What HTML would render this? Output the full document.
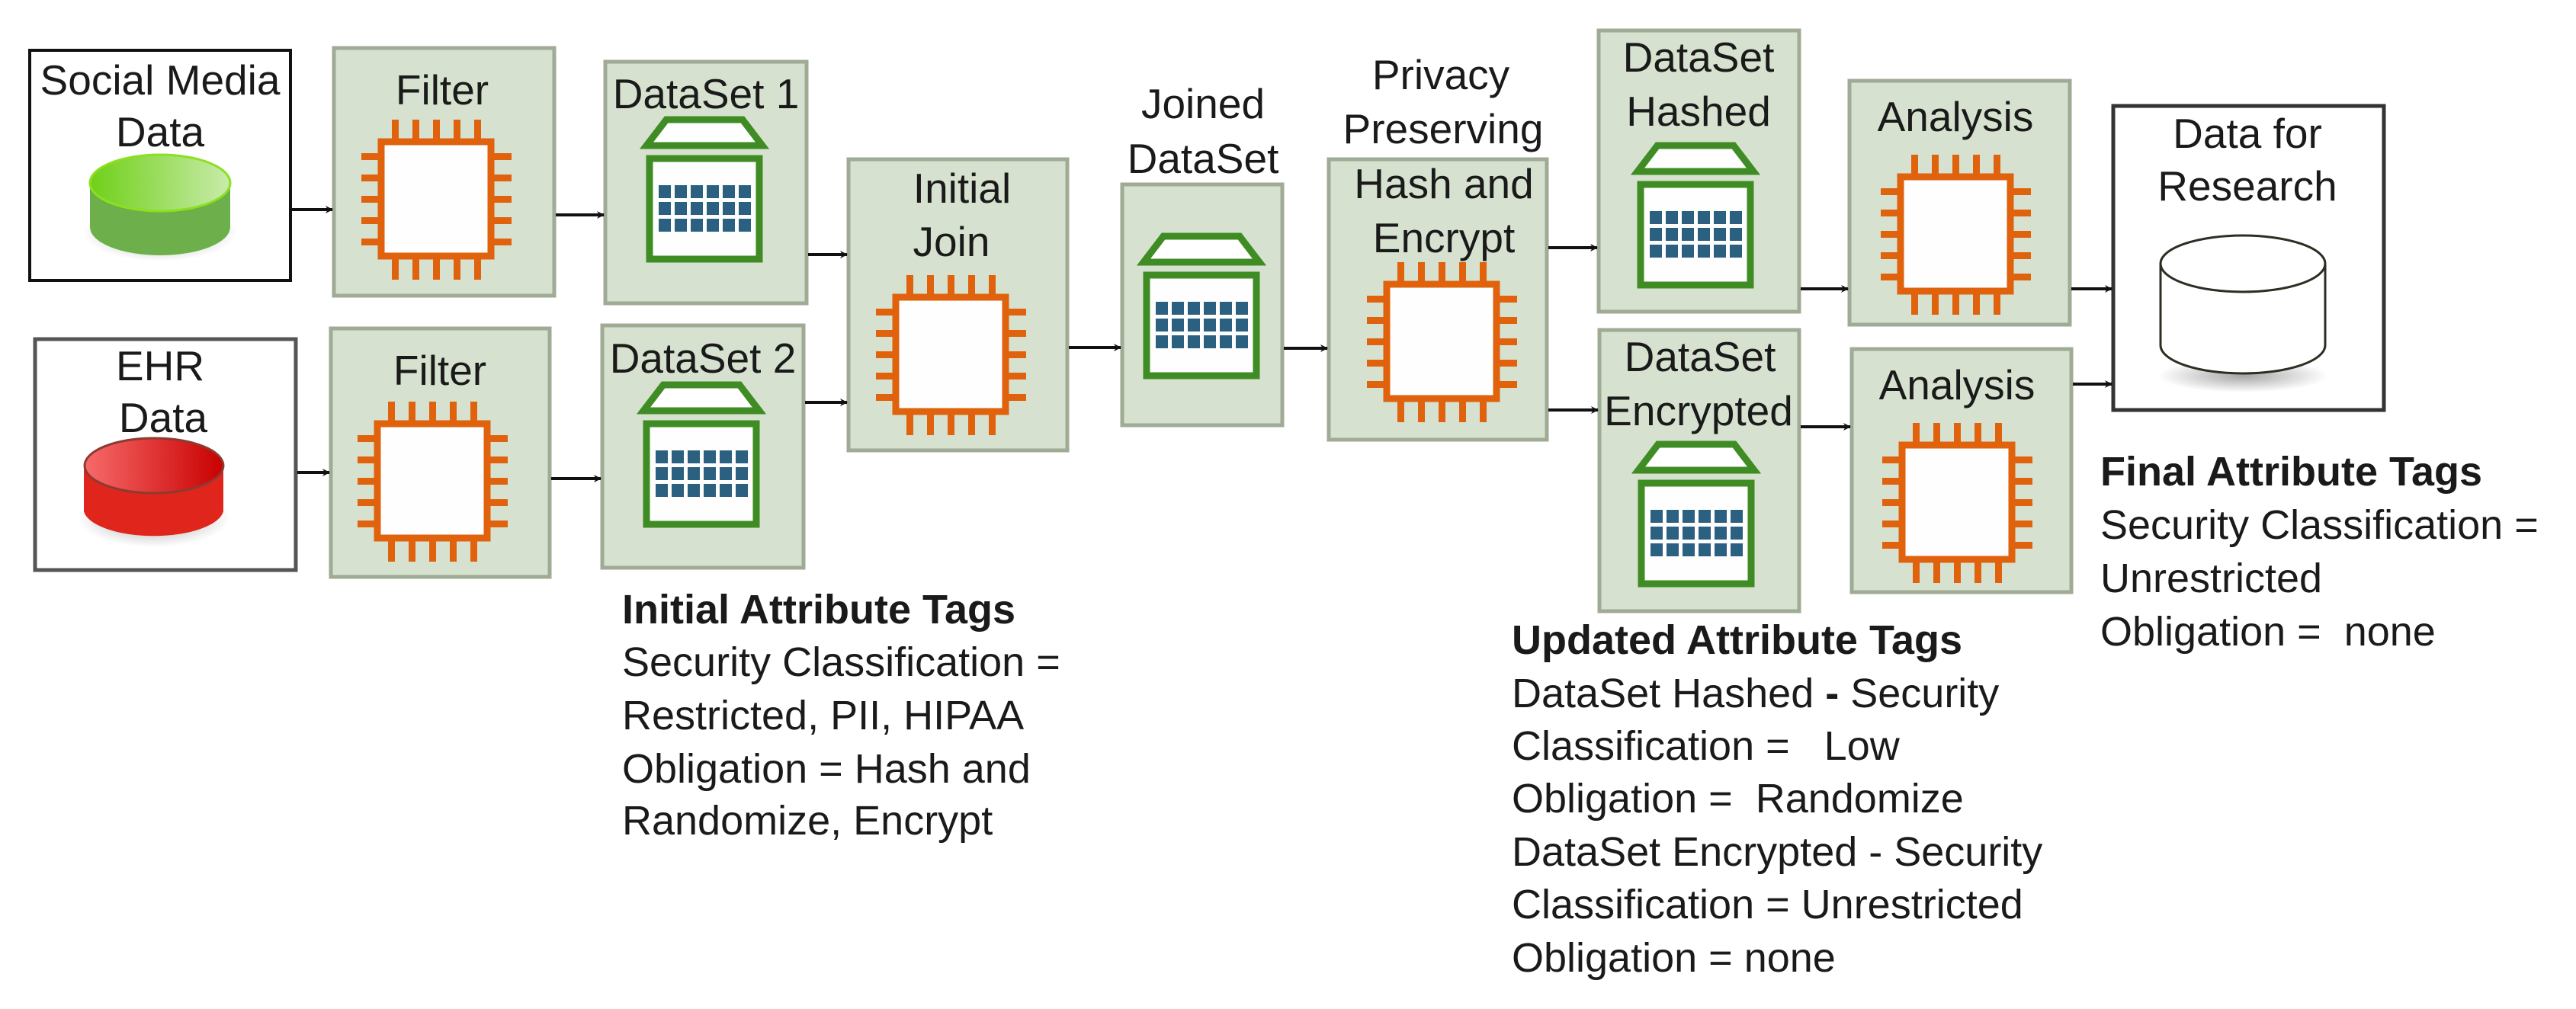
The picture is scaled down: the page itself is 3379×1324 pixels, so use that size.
<!DOCTYPE html>
<html><head><meta charset="utf-8"><style>
html,body{margin:0;padding:0;background:#fff;}
svg{display:block;}
text{font-family:"Liberation Sans",Arial,sans-serif;fill:#1a1a1a;}
</style></head><body>
<svg width="3379" height="1324" viewBox="0 0 3379 1324" xmlns="http://www.w3.org/2000/svg">
<defs>
<g id="chip">
  <g fill="#e0620d">
    <rect x="-58" y="-104" width="9" height="30"/><rect x="-31" y="-104" width="9" height="30"/><rect x="-4" y="-104" width="9" height="30"/><rect x="23" y="-104" width="9" height="30"/><rect x="50" y="-104" width="9" height="30"/>
    <rect x="-58" y="74" width="9" height="32"/><rect x="-31" y="74" width="9" height="32"/><rect x="-4" y="74" width="9" height="32"/><rect x="23" y="74" width="9" height="32"/><rect x="50" y="74" width="9" height="32"/>
    <rect x="-98" y="-60" width="26" height="9"/><rect x="-98" y="-32" width="26" height="9"/><rect x="-98" y="-4" width="26" height="9"/><rect x="-98" y="24" width="26" height="9"/><rect x="-98" y="52" width="26" height="9"/>
    <rect x="72" y="-60" width="27" height="9"/><rect x="72" y="-32" width="27" height="9"/><rect x="72" y="-4" width="27" height="9"/><rect x="72" y="24" width="27" height="9"/><rect x="72" y="52" width="27" height="9"/>
  </g>
  <rect x="-72" y="-75" width="144" height="150" fill="#fdfefd" stroke="#e0620d" stroke-width="9"/>
</g>
<g id="ds">
  <polygon points="-50,4 50,4 76,38 -76,38" fill="#fff" stroke="#3f8c25" stroke-width="9" stroke-linejoin="miter"/>
  <rect x="-72" y="55" width="144" height="132" fill="#fdfefd" stroke="#3f8c25" stroke-width="9"/>
  <g fill="#2c6080">
    <rect x="-60" y="90" width="16" height="17"/><rect x="-39" y="90" width="16" height="17"/><rect x="-18" y="90" width="16" height="17"/><rect x="3" y="90" width="16" height="17"/><rect x="24" y="90" width="16" height="17"/><rect x="45" y="90" width="16" height="17"/>
    <rect x="-60" y="112" width="16" height="17"/><rect x="-39" y="112" width="16" height="17"/><rect x="-18" y="112" width="16" height="17"/><rect x="3" y="112" width="16" height="17"/><rect x="24" y="112" width="16" height="17"/><rect x="45" y="112" width="16" height="17"/>
    <rect x="-60" y="134" width="16" height="17"/><rect x="-39" y="134" width="16" height="17"/><rect x="-18" y="134" width="16" height="17"/><rect x="3" y="134" width="16" height="17"/><rect x="24" y="134" width="16" height="17"/><rect x="45" y="134" width="16" height="17"/>
  </g>
</g>
<marker id="ah" markerWidth="10" markerHeight="10" refX="9" refY="5" orient="auto" markerUnits="userSpaceOnUse">
  <path d="M0,0 L10,5 L0,10 L3,5 Z" fill="#111"/>
</marker>
<linearGradient id="gtop" x1="0" x2="1" y1="0" y2="0"><stop offset="0" stop-color="#6fd018"/><stop offset="1" stop-color="#c9ebaa"/></linearGradient>
<linearGradient id="rtop" x1="0" x2="1" y1="0" y2="0"><stop offset="0" stop-color="#f76a6a"/><stop offset="1" stop-color="#c90000"/></linearGradient>
<radialGradient id="shadow" cx="0.5" cy="0.5" r="0.5"><stop offset="0" stop-color="#000" stop-opacity="0.35"/><stop offset="1" stop-color="#000" stop-opacity="0"/></radialGradient>
</defs>

<!-- Social Media box -->
<rect x="39" y="66" width="342" height="302" fill="#fff" stroke="#111" stroke-width="4"/>
<text x="210" y="124" font-size="55" text-anchor="middle">Social Media</text>
<text x="210" y="192" font-size="55" text-anchor="middle">Data</text>
<ellipse cx="210" cy="305" rx="100" ry="38" fill="url(#shadow)"/>
<path d="M118,240 L118,298 A92,37 0 0 0 302,298 L302,240 Z" fill="#6daf4b"/>
<ellipse cx="210" cy="240" rx="92" ry="37" fill="url(#gtop)" stroke="#8be020" stroke-width="3"/>

<!-- EHR box -->
<rect x="46" y="445" width="342" height="303" fill="#fff" stroke="#555" stroke-width="5"/>
<text x="210" y="499" font-size="55" text-anchor="middle">EHR</text>
<text x="214" y="567" font-size="55" text-anchor="middle">Data</text>
<ellipse cx="202" cy="680" rx="100" ry="38" fill="url(#shadow)"/>
<path d="M110,611 L110,671 A92,36 0 0 0 293,671 L293,611 Z" fill="#e0261c"/>
<ellipse cx="202" cy="611" rx="91" ry="36" fill="url(#rtop)" stroke="#8e3a30" stroke-width="3"/>

<!-- Green process boxes -->
<g fill="#d6e2cf" stroke="#a0ab95" stroke-width="5">
  <rect x="438" y="63" width="289" height="325"/>
  <rect x="434" y="431" width="287" height="326"/>
  <rect x="794" y="81" width="264" height="317"/>
  <rect x="790" y="427" width="264" height="318"/>
  <rect x="1113" y="209" width="287" height="382"/>
  <rect x="1472" y="242" width="210" height="316"/>
  <rect x="1743" y="209" width="286" height="368"/>
  <rect x="2097" y="40" width="263" height="369"/>
  <rect x="2098" y="433" width="262" height="369"/>
  <rect x="2426" y="106" width="289" height="320"/>
  <rect x="2429" y="458" width="288" height="319"/>
</g>

<!-- Data for Research -->
<rect x="2772" y="139" width="355" height="399" fill="#fff" stroke="#333" stroke-width="5"/>
<text x="2948" y="194" font-size="55" text-anchor="middle">Data for</text>
<text x="2948" y="263" font-size="55" text-anchor="middle">Research</text>
<ellipse cx="2942" cy="493" rx="112" ry="22" fill="url(#shadow)"/>
<path d="M2834,346 L2834,453 A108,37 0 0 0 3050,453 L3050,346" fill="#fff" stroke="#2a2f22" stroke-width="3"/>
<ellipse cx="2942" cy="346" rx="108" ry="37" fill="#fff" stroke="#2a2f22" stroke-width="3"/>

<!-- Labels -->
<g font-size="55" text-anchor="middle">
  <text x="580" y="137">Filter</text>
  <text x="577" y="505">Filter</text>
  <text x="926" y="142">DataSet 1</text>
  <text x="922" y="489">DataSet 2</text>
  <text x="1262" y="266">Initial</text>
  <text x="1248" y="336">Join</text>
  <text x="1578" y="155">Joined</text>
  <text x="1578" y="227">DataSet</text>
  <text x="1890" y="117">Privacy</text>
  <text x="1893" y="188">Preserving</text>
  <text x="1894" y="260">Hash and</text>
  <text x="1894" y="331">Encrypt</text>
  <text x="2228" y="94">DataSet</text>
  <text x="2228" y="165">Hashed</text>
  <text x="2230" y="487">DataSet</text>
  <text x="2228" y="558">Encrypted</text>
  <text x="2565" y="172">Analysis</text>
  <text x="2567" y="524">Analysis</text>
</g>

<!-- Chips -->
<use href="#chip" x="572" y="261"/>
<use href="#chip" x="567" y="631"/>
<use href="#chip" x="1247" y="465"/>
<use href="#chip" x="1891" y="448"/>
<use href="#chip" x="2565" y="307"/>
<use href="#chip" x="2567" y="659"/>

<!-- DataSet icons -->
<use href="#ds" x="924" y="153"/>
<use href="#ds" x="920" y="501"/>
<use href="#ds" x="1576" y="306"/>
<use href="#ds" x="2224" y="187"/>
<use href="#ds" x="2225" y="579"/>

<!-- Arrows -->
<g stroke="#111" stroke-width="4" marker-end="url(#ah)">
  <line x1="383" y1="275" x2="436" y2="275"/>
  <line x1="390" y1="620" x2="432" y2="620"/>
  <line x1="729" y1="282" x2="792" y2="282"/>
  <line x1="723" y1="628" x2="788" y2="628"/>
  <line x1="1060" y1="334" x2="1111" y2="334"/>
  <line x1="1056" y1="528" x2="1111" y2="528"/>
  <line x1="1402" y1="456" x2="1470" y2="456"/>
  <line x1="1684" y1="457" x2="1741" y2="457"/>
  <line x1="2031" y1="325" x2="2095" y2="325"/>
  <line x1="2031" y1="538" x2="2096" y2="538"/>
  <line x1="2362" y1="379" x2="2424" y2="379"/>
  <line x1="2362" y1="560" x2="2427" y2="560"/>
  <line x1="2717" y1="379" x2="2770" y2="379"/>
  <line x1="2719" y1="504" x2="2770" y2="504"/>
</g>

<!-- Attribute tags -->
<g font-size="54">
  <text x="816" y="818" font-weight="bold">Initial Attribute Tags</text>
  <text x="816" y="887">Security Classification =</text>
  <text x="816" y="957">Restricted, PII, HIPAA</text>
  <text x="816" y="1027">Obligation = Hash and</text>
  <text x="816" y="1095">Randomize, Encrypt</text>

  <text x="1983" y="858" font-weight="bold">Updated Attribute Tags</text>
  <text x="1983" y="928">DataSet Hashed <tspan font-weight="bold">-</tspan> Security</text>
  <text x="1983" y="997" xml:space="preserve">Classification =   Low</text>
  <text x="1983" y="1066" xml:space="preserve">Obligation =  Randomize</text>
  <text x="1983" y="1136">DataSet Encrypted - Security</text>
  <text x="1983" y="1205">Classification = Unrestricted</text>
  <text x="1983" y="1275">Obligation = none</text>

  <text x="2755" y="637" font-weight="bold">Final Attribute Tags</text>
  <text x="2755" y="707">Security Classification =</text>
  <text x="2755" y="777">Unrestricted</text>
  <text x="2755" y="847" xml:space="preserve">Obligation =  none</text>
</g>
</svg>
</body></html>
